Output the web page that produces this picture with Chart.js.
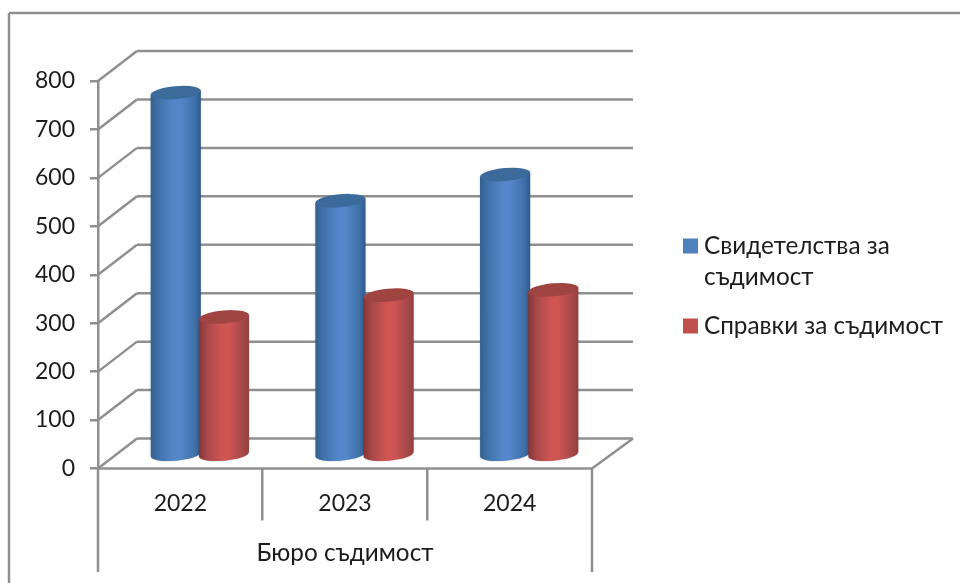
<!DOCTYPE html>
<html>
<head>
<meta charset="utf-8">
<style>
  body { margin: 0; background: #fff; }
  canvas { display: block; }
</style>
<script src="https://cdn.jsdelivr.net/npm/chart.js@4"></script>
</head>
<body>
<canvas id="myChart" width="960" height="583"></canvas>
<script>
const categories = ['2022', '2023', '2024'];
const groupLabel = 'Бюро съдимост';
const certificates = [749, 526, 580];
const references = [286, 331, 342];
const certificatesLabel = ['Свидетелства за', 'съдимост'];
const referencesLabel = ['Справки за съдимост'];

const fontName = 'Lato, "Noto Sans", sans-serif';
const fontSize = 23;
const wordFontSize = 24.3;
const textColor = '#1c1c1c';
const lineColor = '#8f8f8f';
const depthX = 39;
const depthY = 30;

// one colour set per series: left edge, shoulder, middle, right edge, top cap
const blues = { edge: '#33608f', shoulder: '#3f70a8', mid: '#5487c9', dark: '#2f5b8a', cap: '#3b6a9b' };
const reds = { edge: '#853634', shoulder: '#a5474a', mid: '#cf5553', dark: '#93403e', cap: '#a04441' };

function line(ctx, x1, y1, x2, y2) {
  ctx.beginPath();
  ctx.moveTo(x1, y1);
  ctx.lineTo(x2, y2);
  ctx.stroke();
}

// frame and the walls behind the bars
const wallsPlugin = {
  id: 'walls',
  beforeDatasetsDraw(chart) {
    const ctx = chart.ctx;
    const area = chart.chartArea;
    const yScale = chart.scales.y;
    ctx.save();
    ctx.strokeStyle = lineColor;
    ctx.lineWidth = 2.5;
    line(ctx, 9, 13, 960, 13);
    line(ctx, 9, 13, 9, 583);
    yScale.ticks.forEach(tick => {
      const y = yScale.getPixelForValue(tick.value);
      line(ctx, area.left, y, area.left + depthX, y - depthY);
      line(ctx, area.left + depthX, y - depthY, area.right + depthX + 2, y - depthY);
    });
    line(ctx, area.right, area.bottom, area.right + depthX + 2, area.bottom - depthY);
    // outer group brackets of the category axis
    line(ctx, area.left, area.bottom, area.left, 572);
    line(ctx, area.right, area.bottom, area.right, 572);
    line(ctx, area.left, area.bottom, area.right, area.bottom);
    ctx.restore();
  }
};

function drawCylinder(ctx, bar, colors) {
  const rx = bar.width / 2 + 1;
  const ry = 6.5;
  const tilt = -0.09;
  const cx = bar.x + depthX / 2;
  const top = bar.y - depthY / 2 + 2;
  const bottom = bar.base - depthY / 2 + 2;
  const left = cx - rx;
  const right = cx + rx;
  const dy = Math.sin(tilt) * rx;

  const grad = ctx.createLinearGradient(left, 0, right, 0);
  grad.addColorStop(0, colors.edge);
  grad.addColorStop(0.15, colors.shoulder);
  grad.addColorStop(0.45, colors.mid);
  grad.addColorStop(0.6, colors.mid);
  grad.addColorStop(0.88, colors.shoulder);
  grad.addColorStop(1, colors.dark);

  ctx.save();
  ctx.shadowColor = 'rgba(0,0,0,0.22)';
  ctx.shadowBlur = 2;
  ctx.fillStyle = grad;
  ctx.beginPath();
  ctx.moveTo(left, top - dy);
  ctx.lineTo(right, top + dy);
  ctx.lineTo(right, bottom + dy);
  ctx.ellipse(cx, bottom, rx, ry, tilt, 0, Math.PI);
  ctx.closePath();
  ctx.fill();
  ctx.shadowBlur = 0;
  ctx.shadowColor = 'transparent';
  ctx.fillStyle = colors.cap;
  ctx.beginPath();
  ctx.ellipse(cx, top, rx, ry, tilt, 0, Math.PI * 2);
  ctx.fill();
  ctx.restore();
}

const cylinderPlugin = {
  id: 'cylinders',
  afterDatasetsDraw(chart) {
    const seriesColors = [blues, reds];
    chart.data.datasets.forEach((dataset, i) => {
      chart.getDatasetMeta(i).data.forEach(bar => {
        drawCylinder(chart.ctx, bar, seriesColors[i]);
      });
    });
  }
};

// legend sits beside the plot, first line level with the swatch
const legendPlugin = {
  id: 'sideLegend',
  afterDraw(chart) {
    const ctx = chart.ctx;
    const entries = [
      { lines: certificatesLabel, color: '#4f81bd', y: 246 },
      { lines: referencesLabel, color: '#c0504d', y: 326 }
    ];
    ctx.save();
    ctx.font = wordFontSize + 'px ' + fontName;
    ctx.textBaseline = 'middle';
    entries.forEach(entry => {
      ctx.fillStyle = entry.color;
      ctx.fillRect(683, entry.y - 7.5, 15, 15);
      ctx.fillStyle = textColor;
      entry.lines.forEach((text, n) => ctx.fillText(text, 704, entry.y + n * 31));
    });
    ctx.restore();
  }
};

const myChart = new Chart(document.getElementById('myChart'), {
  type: 'bar',
  data: {
    labels: categories,
    datasets: [
      { label: certificatesLabel.join(' '), data: certificates, backgroundColor: 'transparent' },
      { label: referencesLabel.join(' '), data: references, backgroundColor: 'transparent' }
    ]
  },
  plugins: [wallsPlugin, cylinderPlugin, legendPlugin],
  options: {
    responsive: false,
    animation: false,
    categoryPercentage: 0.585,
    barPercentage: 1,
    layout: { padding: { top: 81, right: 368, bottom: 0, left: 0 } },
    plugins: { legend: { display: false }, tooltip: { enabled: false } },
    scales: {
      x: {
        afterFit: scale => { scale.height = 114.5; },
        border: { display: false },
        grid: {
          drawOnChartArea: false,
          // the two outer ticks are covered by the longer brackets (the last one has no index)
          color: c => (c.index === 0 || c.index === undefined) ? 'transparent' : lineColor,
          lineWidth: 2.5,
          tickLength: 52
        },
        ticks: {
          color: textColor,
          font: { family: fontName, size: fontSize },
          padding: -31,
          maxRotation: 0,
          autoSkip: false
        },
        title: {
          display: true,
          text: groupLabel,
          color: textColor,
          font: { family: fontName, size: wordFontSize },
          padding: { top: 0, bottom: 15 }
        }
      },
      y: {
        min: 0,
        max: 800,
        afterFit: scale => { scale.width = 98; },
        border: { color: lineColor, width: 2.5 },
        grid: { drawOnChartArea: false, color: lineColor, lineWidth: 2.5, tickLength: 8 },
        ticks: {
          stepSize: 100,
          color: textColor,
          font: { family: fontName, size: fontSize },
          padding: 15
        }
      }
    }
  }
});
</script>
</body>
</html>
